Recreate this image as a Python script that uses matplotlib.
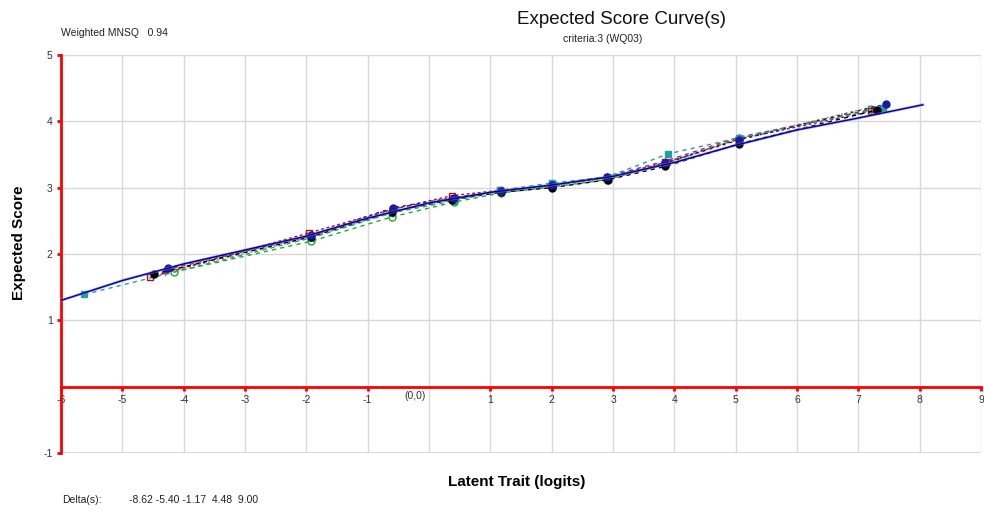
import numpy as np
import matplotlib
matplotlib.use("Agg")
import matplotlib.pyplot as plt

plt.rcParams['font.family'] = ['Liberation Sans', 'DejaVu Sans']

# model curve (expected score)
model_x = [-6, -5, -4, -3, -2, -1, 0, 1, 2, 3, 4, 5, 6, 7, 8, 8.05]
model_y = [1.30, 1.60, 1.85, 2.06, 2.27, 2.54, 2.77, 2.93, 3.04, 3.17, 3.38, 3.64, 3.87, 4.05, 4.24, 4.25]

# empirical points per group
black_x = [-4.48, -1.93, -0.60, 0.38, 1.17, 2.00, 2.92, 3.85, 5.05, 7.30]
black_y = [1.70, 2.26, 2.64, 2.82, 2.93, 3.00, 3.12, 3.32, 3.66, 4.17]
teal_x = [-5.62, -1.93, -0.60, 0.40, 1.15, 2.00, 2.90, 3.90, 5.05, 7.40]
teal_y = [1.39, 2.24, 2.62, 2.80, 2.96, 3.07, 3.16, 3.51, 3.75, 4.20]
red_x = [-4.55, -1.95, -0.58, 0.38, 1.15, 2.00, 2.90, 3.85, 5.05, 7.20]
red_y = [1.65, 2.32, 2.68, 2.88, 2.96, 3.04, 3.15, 3.38, 3.73, 4.15]
blue_x = [-4.25, -1.93, -0.58, 0.40, 1.17, 2.00, 2.90, 3.85, 5.05, 7.45]
blue_y = [1.79, 2.28, 2.70, 2.85, 2.95, 3.04, 3.16, 3.37, 3.72, 4.26]
purple_x = [-4.30, -1.93, -0.58, 0.40, 1.17, 2.00, 2.90, 3.85, 5.05, 7.25]
purple_y = [1.76, 2.27, 2.68, 2.85, 2.95, 3.03, 3.17, 3.40, 3.76, 4.18]
green_x = [-4.15, -1.93, -0.60, 0.40, 1.17, 2.00, 2.90, 3.85, 5.05, 7.20]
green_y = [1.73, 2.19, 2.56, 2.78, 2.92, 3.01, 3.12, 3.36, 3.74, 4.18]
olive_x = [-4.30, -1.93, -0.60, 0.40, 1.17, 2.00, 2.90, 3.85, 5.05, 7.15]
olive_y = [1.72, 2.25, 2.63, 2.83, 2.94, 3.03, 3.14, 3.37, 3.74, 4.20]

x_ticks = [-6, -5, -4, -3, -2, -1, 1, 2, 3, 4, 5, 6, 7, 8, 9]
y_ticks = [-1, 1, 2, 3, 4, 5]
deltas = ["-8.62", "-5.40", "-1.17", "4.48", "9.00"]

fig = plt.figure(figsize=(9.84, 5.14), dpi=100)
ax = fig.add_axes([0.062, 0.1187, 0.935, 0.7743])
ax.set_xlim(-6, 9)
ax.set_ylim(-1, 5)

# grid
ax.set_xticks(x_ticks)
ax.set_yticks(y_ticks)
ax.set_xticks([0], minor=True)
ax.set_yticks([0], minor=True)
ax.grid(True, which='both', color='#d8d8d8', lw=1)
ax.set_axisbelow(True)
for s in ['top', 'right']:
    ax.spines[s].set_visible(False)
ax.spines['bottom'].set_position(('data', 0))
ax.spines['bottom'].set_color('red')
ax.spines['bottom'].set_linewidth(2)
ax.spines['left'].set_color('red')
ax.spines['left'].set_linewidth(2)
ax.tick_params(axis='both', which='major', colors='red', length=3, width=2,
               labelsize=7.5, labelcolor='#333333', pad=3)
ax.tick_params(axis='both', which='minor', length=0)
ax.set_xticklabels([str(t) for t in x_ticks])
ax.set_yticklabels([str(t) for t in y_ticks])
ax.text(-0.23, -0.07, "(0,0)", ha='center', va='top', fontsize=7.5, color='#333333')
ax.axhline(-1, color='#d8d8d8', lw=1.5, zorder=0)

# empirical curves
series = [
    (olive_x, olive_y, '#a0a020', '+', 'none', (0, (1.5, 2))),
    (green_x, green_y, '#22aa22', 'o', 'none', (0, (3, 3))),
    (purple_x, purple_y, '#9922aa', '^', '#9922aa', (0, (3, 3))),
    (red_x, red_y, '#aa1111', 's', 'none', (0, (2, 2))),
    (teal_x, teal_y, '#20a0a0', 's', '#20a0a0', (0, (3, 3))),
    (black_x, black_y, 'black', 'o', 'black', (0, (3, 3))),
    (blue_x, blue_y, '#1a1aa0', 'o', '#1a1aa0', (0, (2, 3))),
]
for xs, ys, c, m, fc, ls in series:
    ax.plot(xs, ys, color=c, ls=ls, lw=1, marker=m, ms=5, mfc=fc, mec=c, mew=1, zorder=3)

# model curve
ax.plot(model_x, model_y, color='#8080d0', lw=2, zorder=4, alpha=0.6)
ax.plot(model_x, model_y, color='#0000a0', lw=1, zorder=5)

fig.text(0.632, 0.962, "Expected Score Curve(s)", ha='center', va='center', fontsize=13.5, color='#111111')
fig.text(0.612, 0.925, "criteria:3 (WQ03)", ha='center', va='center', fontsize=7.5, color='#222222')
fig.text(0.062, 0.935, "Weighted MNSQ   0.94", ha='left', va='center', fontsize=7.5, color='#222222')
fig.text(0.019, 0.527, "Expected Score", ha='center', va='center', rotation=90, fontsize=11, fontweight='bold')
fig.text(0.525, 0.062, "Latent Trait (logits)", ha='center', va='center', fontsize=11, fontweight='bold')
fig.text(0.063, 0.027, "Delta(s):", ha='left', va='center', fontsize=7.5, color='#222222')
fig.text(0.131, 0.027, " ".join(deltas[:3]) + "  " + "  ".join(deltas[3:]), ha='left', va='center', fontsize=7.5, color='#222222')

fig.savefig("out.png", dpi=100)
